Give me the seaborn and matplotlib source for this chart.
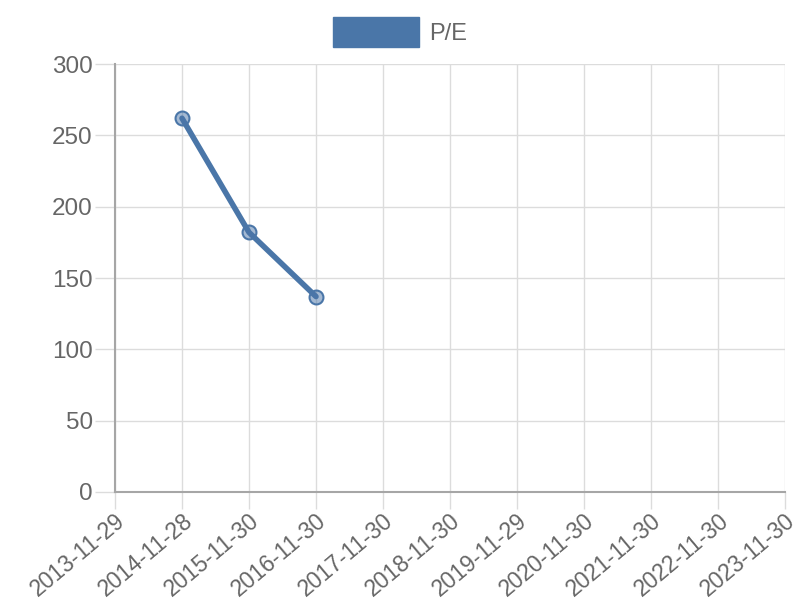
import numpy as np
import pandas as pd
import matplotlib
matplotlib.use("Agg")
import matplotlib.pyplot as plt
from matplotlib.patches import Patch
import seaborn as sns

# data
dates = ['2013-11-29', '2014-11-28', '2015-11-30', '2016-11-30', '2017-11-30',
         '2018-11-30', '2019-11-29', '2020-11-30', '2021-11-30', '2022-11-30',
         '2023-11-30']
pe_values = [np.nan, 262, 182, 137, np.nan, np.nan, np.nan, np.nan, np.nan,
             np.nan, np.nan]
y_ticks = [0, 50, 100, 150, 200, 250, 300]

line_color = '#4a76a8'
grid_color = '#dcdcdc'
axis_color = '#a6a6a6'
text_color = '#666666'

sns.set_theme(style='white')
plt.rcParams['font.family'] = ['Liberation Sans', 'DejaVu Sans']

df = pd.DataFrame({'pos': np.arange(len(dates)), 'pe': pe_values}).dropna()

fig = plt.figure(figsize=(8, 6), dpi=100)
ax = fig.add_axes([0.14375, 0.18, 0.8375, 0.7133])

sns.lineplot(data=df, x='pos', y='pe', ax=ax, color=line_color, linewidth=4,
             marker='o', markersize=10, markerfacecolor=(0.29, 0.46, 0.66, 0.5),
             markeredgecolor=line_color, markeredgewidth=1.5, zorder=3)

ax.set_xlim(0, len(dates) - 1)
ax.set_ylim(0, 300)
ax.set_xticks(np.arange(len(dates)))
ax.set_xticklabels(dates, rotation=40, ha='right', va='top',
                   rotation_mode='anchor')
ax.set_yticks(y_ticks)
ax.set_xlabel('')
ax.set_ylabel('')

ax.grid(True, color=grid_color, linewidth=1)
ax.set_axisbelow(True)
for side in ['top', 'right']:
    ax.spines[side].set_visible(False)
for side in ['left', 'bottom']:
    ax.spines[side].set_color(axis_color)
    ax.spines[side].set_linewidth(1.5)

ax.tick_params(axis='both', which='both', direction='out', width=1,
               color=grid_color, labelcolor=text_color, left=True, bottom=True)
ax.tick_params(axis='y', length=14.5, labelsize=17.5, pad=1.5)
ax.tick_params(axis='x', length=12.5, labelsize=16.5, pad=0)

fig.legend(handles=[Patch(facecolor=line_color, edgecolor=line_color)],
           labels=['P/E'], loc='upper center', bbox_to_anchor=(0.5, 0.972),
           frameon=False, fontsize=17, handlelength=3.65, handleheight=1.6,
           handletextpad=0.4, borderpad=0, borderaxespad=0,
           labelcolor=text_color)

fig.savefig('out.png', dpi=100)
